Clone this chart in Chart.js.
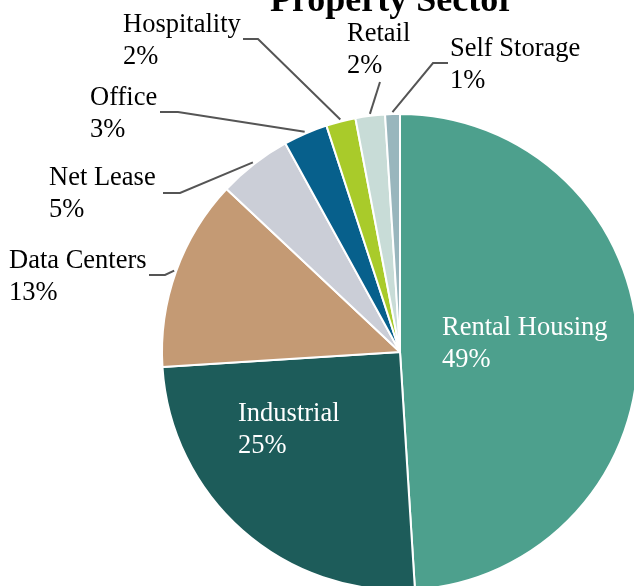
<!DOCTYPE html>
<html>
<head>
<meta charset="utf-8">
<script src="https://cdn.jsdelivr.net/npm/chart.js@4"></script>
<style>
  html, body { margin: 0; padding: 0; overflow: hidden; background: #fff; }
  #wrap { position: absolute; left: 0; top: 0; width: 800px; height: 704px; }
</style>
</head>
<body>
<div id="wrap"><canvas id="sector" width="800" height="704"></canvas></div>
<script>
// data
const sectors = ['Rental Housing', 'Industrial', 'Data Centers', 'Net Lease', 'Office', 'Hospitality', 'Retail', 'Self Storage'];
const shares = [49, 25, 13, 5, 3, 2, 2, 1];
const sliceColors = ['#4da08d', '#1d5c5a', '#c49a74', '#cbced7', '#07608c', '#a9cb2a', '#c8dcd7', '#99b6bd'];

// label placement: [textX, baselineY, tailX, tailY, elbowX, elbowY, inside]
const labelSpots = [
    [442, 335, null, null, null, null, true],
    [238, 421, null, null, null, null, true],
    [9, 268, 149, 275, 165, 275, false],
    [49, 185, 163, 193, 180, 193, false],
    [90, 105, 160, 112, 178, 112, false],
    [123, 32, 243, 39, 258, 39, false],
    [347, 41, null, null, 380, 82, false],
    [450, 56, 448, 63, 433, 63, false]
];

const labelPlugin = {
    id: 'sectorLabels',
    afterDatasetsDraw(chart) {
        const ctx = chart.ctx;
        const arcs = chart.getDatasetMeta(0).data;
        ctx.save();
        ctx.font = '26.5px "Liberation Serif", "Times New Roman", serif';
        ctx.textBaseline = 'alphabetic';
        ctx.textAlign = 'left';
        arcs.forEach((arc, i) => {
            const p = arc.getProps(['x', 'y', 'startAngle', 'endAngle', 'outerRadius'], true);
            const spot = labelSpots[i];
            const pct = shares[i] + '%';
            if (spot[6]) {
                ctx.fillStyle = '#ffffff';
                ctx.fillText(sectors[i], spot[0], spot[1]);
                ctx.fillText(pct, spot[0], spot[1] + 32);
                return;
            }
            // leader line from label to slice edge
            const mid = (p.startAngle + p.endAngle) / 2;
            const ex = p.x + Math.cos(mid) * (p.outerRadius + 2);
            const ey = p.y + Math.sin(mid) * (p.outerRadius + 2);
            ctx.strokeStyle = '#555555';
            ctx.lineWidth = 2;
            ctx.beginPath();
            if (spot[2] !== null) {
                ctx.moveTo(spot[2], spot[3]);
                ctx.lineTo(spot[4], spot[5]);
            } else {
                ctx.moveTo(spot[4], spot[5]);
            }
            ctx.lineTo(ex, ey);
            ctx.stroke();
            ctx.fillStyle = '#000000';
            ctx.fillText(sectors[i], spot[0], spot[1]);
            ctx.fillText(pct, spot[0], spot[1] + 32);
        });
        // title, cut off by the top edge as in the original
        ctx.font = 'bold 36px "Liberation Serif", "Times New Roman", serif';
        ctx.textAlign = 'center';
        ctx.fillStyle = '#000000';
        ctx.fillText('Property Sector', 392, 11);
        ctx.restore();
    }
};

new Chart(document.getElementById('sector'), {
    type: 'pie',
    data: {
        labels: sectors,
        datasets: [{
            data: shares,
            backgroundColor: sliceColors,
            borderColor: '#ffffff',
            borderWidth: 2
        }]
    },
    options: {
        responsive: false,
        animation: false,
        radius: 238,
        layout: { padding: 0 },
        plugins: {
            legend: { display: false },
            tooltip: { enabled: false },
            title: { display: false }
        }
    },
    plugins: [labelPlugin]
});
</script>
</body>
</html>
